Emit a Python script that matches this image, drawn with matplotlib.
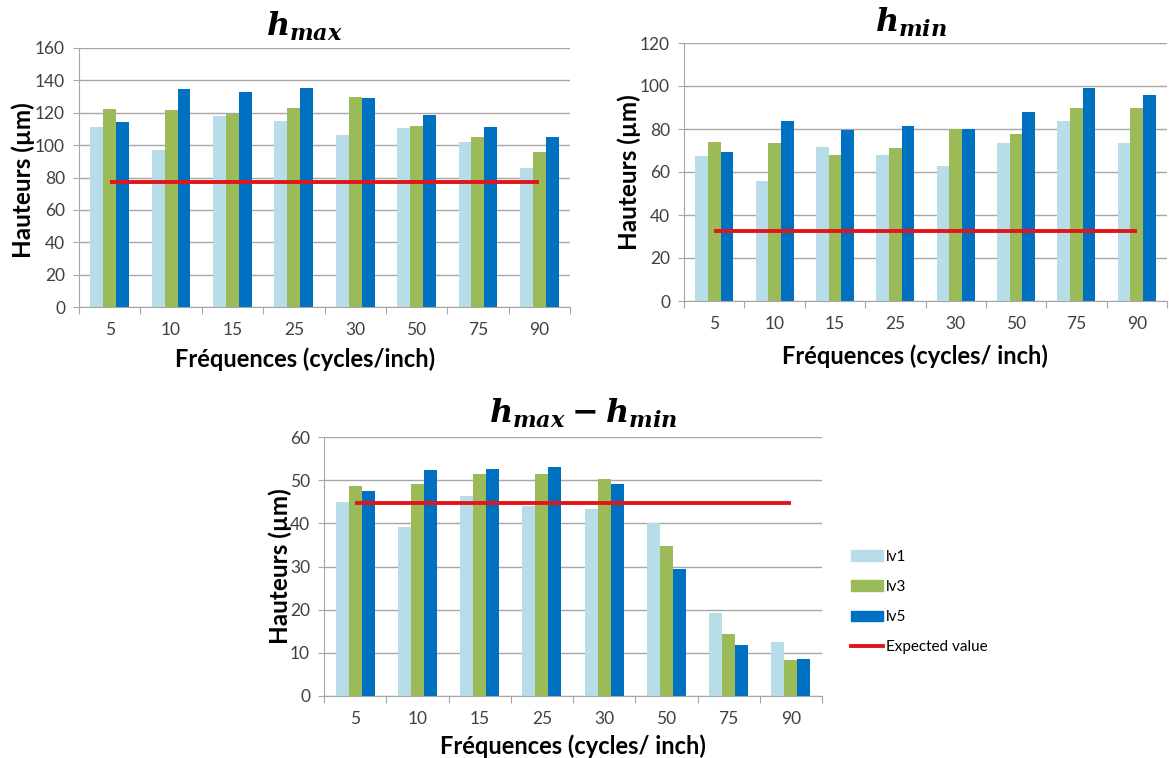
import matplotlib
matplotlib.use("Agg")
import matplotlib.pyplot as plt
import numpy as np
from matplotlib.patches import Patch
from matplotlib.lines import Line2D

# data
freqs = ["5", "10", "15", "25", "30", "50", "75", "90"]

hmax_lv1 = [111.3, 96.9, 117.9, 115.1, 106.4, 110.5, 101.9, 86.0]
hmax_lv3 = [122.5, 121.9, 119.2, 122.9, 129.9, 112.0, 104.9, 95.9]
hmax_lv5 = [114.0, 134.4, 133.0, 135.1, 129.3, 118.4, 111.3, 104.9]
hmax_expected = 77.5

hmin_lv1 = [67.5, 55.8, 71.5, 68.1, 63.0, 73.4, 83.6, 73.4]
hmin_lv3 = [73.8, 73.4, 67.8, 71.2, 79.8, 77.8, 89.9, 89.6]
hmin_lv5 = [69.3, 83.6, 79.4, 81.5, 79.8, 88.0, 99.2, 95.9]
hmin_expected = 32.7

diff_lv1 = [44.9, 39.2, 46.4, 44.0, 43.4, 40.1, 19.2, 12.6]
diff_lv3 = [48.7, 49.1, 51.4, 51.4, 50.2, 34.7, 14.3, 8.3]
diff_lv5 = [47.6, 52.4, 52.7, 53.0, 49.1, 29.5, 11.9, 8.5]
diff_expected = 44.7

series_names = ["lv1", "lv3", "lv5"]
expected_name = "Expected value"

colors = ["#b7dde8", "#9bbb59", "#0070c0"]
red = "#e0161b"
grid_col = "#a6a6a6"
tick_col = "#404040"

plt.rcParams["font.family"] = ["Lato", "DejaVu Sans"]
plt.rcParams["mathtext.fontset"] = "custom"
plt.rcParams["mathtext.it"] = "DejaVu Serif:bold:italic"
plt.rcParams["mathtext.rm"] = "DejaVu Serif:bold"
plt.rcParams["mathtext.bf"] = "DejaVu Serif:bold"

W, H = 1169, 758
fig = plt.figure(figsize=(W / 100, H / 100), dpi=100)


def px_axes(left, top, right, bottom):
    return fig.add_axes([left / W, 1 - bottom / H, (right - left) / W, (bottom - top) / H])


def draw(ax, series, expected, ymax, ystep, xlabel, xl_pos, yl_pos):
    x = np.arange(len(freqs))
    width = 0.21
    for i, vals in enumerate(series):
        ax.bar(x + (i - 1) * width, vals, width, color=colors[i], zorder=2)
    ax.plot([x[0], x[-1]], [expected, expected], color=red, lw=2.8,
            solid_capstyle="butt", zorder=3)
    ax.set_xlim(-0.5, len(freqs) - 0.5)
    ax.set_ylim(0, ymax)
    ax.set_yticks(np.arange(0, ymax + 1, ystep))
    ax.yaxis.grid(True, color=grid_col, lw=1, zorder=0)
    ax.set_axisbelow(True)
    for s in ["top", "right"]:
        ax.spines[s].set_visible(False)
    for s in ["left", "bottom"]:
        ax.spines[s].set_color(grid_col)
    # tick marks between categories, labels at centres
    ax.set_xticks(np.arange(-0.5, len(freqs)), minor=False)
    ax.set_xticklabels([])
    ax.set_xticks(x, minor=True)
    ax.set_xticklabels(freqs, minor=True)
    ax.tick_params(axis="x", which="major", length=5, color=grid_col, direction="out")
    ax.tick_params(axis="x", which="minor", length=0, pad=11, labelsize=12.5,
                   labelcolor=tick_col)
    ax.tick_params(axis="y", length=4, color=grid_col, pad=6, labelsize=12.5,
                   labelcolor=tick_col)
    ax.set_xlabel(xlabel, fontsize=17, fontweight="bold")
    ax.set_ylabel("Hauteurs (µm)", fontsize=17.5, fontweight="bold")
    ax.xaxis.set_label_coords(*xl_pos)
    ax.yaxis.set_label_coords(*yl_pos)


ax1 = px_axes(79, 48, 570, 307)
draw(ax1, [hmax_lv1, hmax_lv3, hmax_lv5], hmax_expected, 160, 20,
     "Fréquences (cycles/inch)", (0.46, -0.155), (-0.09, 0.49))

ax2 = px_axes(684, 43, 1167, 301)
draw(ax2, [hmin_lv1, hmin_lv3, hmin_lv5], hmin_expected, 120, 20,
     "Fréquences (cycles/ inch)", (0.478, -0.17), (-0.09, 0.5))

ax3 = px_axes(324, 437, 822, 696)
draw(ax3, [diff_lv1, diff_lv3, diff_lv5], diff_expected, 60, 10,
     "Fréquences (cycles/ inch)", (0.5, -0.15), (-0.065, 0.5))

fig.text(305 / W, 1 - 26 / H, r"$h_{max}$", fontsize=23, ha="center", va="center")
fig.text(911 / W, 1 - 22 / H, r"$h_{min}$", fontsize=23, ha="center", va="center")
fig.text(583 / W, 1 - 413 / H, r"$h_{max} - h_{min}$", fontsize=23,
         ha="center", va="center")

handles = [Patch(color=c) for c in colors] + [Line2D([], [], color=red, lw=2.8)]
fig.legend(handles, series_names + [expected_name], loc="upper left",
           bbox_to_anchor=(845 / W, 1 - 544 / H), frameon=False, fontsize=11,
           handlelength=2.1, handletextpad=0.2, labelspacing=1.05,
           borderaxespad=0)

fig.savefig("out.png", dpi=100)
